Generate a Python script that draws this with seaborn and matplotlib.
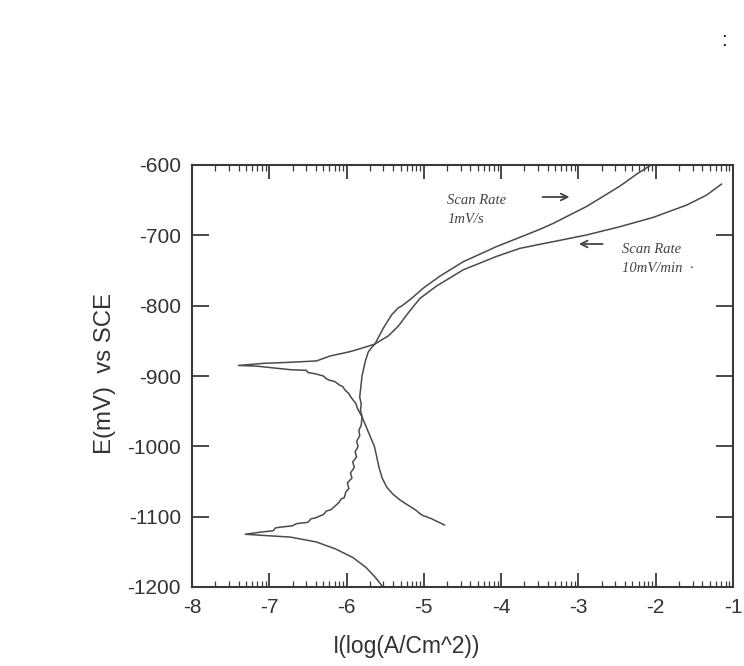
import numpy as np
import pandas as pd
import matplotlib
matplotlib.use("Agg")
import matplotlib.pyplot as plt
import seaborn as sns
from matplotlib.ticker import FixedLocator

# ---- data (x = log current, y = potential mV vs SCE) ----
# Scan rate 10 mV/min (Ecorr about -885 mV)
slow_x = [-4.73, -4.90, -5.02, -5.07, -5.10, -5.20, -5.30, -5.40, -5.48, -5.54, -5.58, -5.64,
          -5.69, -5.77, -5.80,
          -5.82, -5.86, -5.88, -5.91, -5.95, -5.97, -6.02, -6.05, -6.09, -6.15, -6.22, -6.26,
          -6.30, -6.40, -6.45, -6.50, -6.52, -6.73, -6.99, -7.16, -7.40,
          -7.07, -6.73, -6.39, -6.215, -5.956, -5.78, -5.633, -5.46, -5.33, -5.20, -5.05,
          -4.835, -4.49, -4.06, -3.757, -3.50, -3.326, -2.895, -2.463, -2.03, -1.60, -1.34, -1.147]
slow_y = [-1112, -1103, -1098, -1094, -1091, -1084, -1077, -1068, -1058, -1045, -1030, -1000,
          -987, -966, -958,
          -954, -946, -939, -935, -929, -925, -920, -915, -913, -908, -906, -904,
          -900, -897, -896, -895, -892, -891, -888, -886, -885,
          -882, -880.5, -878.6, -871.6, -865.4, -859.7, -854.5, -843, -829, -810, -789.6,
          -772, -749, -730, -718.5, -712.8, -709, -699.5, -687.7, -674.4, -657, -642.7, -627]

# Scan rate 1 mV/s (Ecorr about -1125 mV)
fast_x = [-5.53, -5.63, -5.75, -5.92, -6.14, -6.39, -6.73, -7.03, -7.31,
          -7.11, -6.95, -6.92, -6.86, -6.70, -6.65, -6.50, -6.46, -6.41, -6.30, -6.26,
          -6.20, -6.14, -6.10, -6.07, -6.03, -6.01, -5.97, -5.99, -5.93, -5.95, -5.90,
          -5.92, -5.87, -5.89, -5.85, -5.87, -5.83, -5.84, -5.81, -5.80, -5.82, -5.81,
          -5.83, -5.82, -5.81, -5.80, -5.78, -5.76, -5.72, -5.68, -5.633, -5.525, -5.417,
          -5.33, -5.287, -5.158, -5.007, -4.792, -4.49, -4.06, -3.757, -3.50, -3.326,
          -2.895, -2.463, -2.247, -2.06]
fast_y = [-1200, -1186, -1172, -1158, -1146, -1136, -1129, -1127, -1125,
          -1122, -1120, -1116, -1115, -1113, -1110, -1108, -1103, -1102, -1097, -1092,
          -1090, -1084, -1080, -1075, -1073, -1065, -1060, -1052, -1045, -1038, -1030,
          -1022, -1015, -1008, -1000, -993, -985, -977, -970, -958, -948, -940,
          -930, -920, -910, -900, -890, -880, -866, -860, -854.5, -832, -813,
          -803, -800.5, -789.6, -775, -758, -737.5, -716, -702.8, -691.5, -683,
          -659, -630, -613, -600]

x_ticks = [-8, -7, -6, -5, -4, -3, -2, -1]
y_ticks = [-1200, -1100, -1000, -900, -800, -700, -600]
x_label = "I(log(A/Cm^2))"
y_label = "E(mV)  vs SCE"

slow = pd.DataFrame({"x": slow_x, "y": slow_y})
fast = pd.DataFrame({"x": fast_x, "y": fast_y})

sns.set_theme(style="ticks")
plt.rcParams["font.family"] = ["Liberation Sans", "DejaVu Sans"]

fig = plt.figure(figsize=(7.44, 6.66), dpi=100)
fig.patch.set_facecolor("white")

ax = fig.add_axes([192/744, 1 - 587/666, 541/744, 422/666])
ax.set_facecolor("white")

line_col = "#4a4a4a"
sns.lineplot(data=slow, x="x", y="y", sort=False, estimator=None, ax=ax,
             color=line_col, lw=1.1)
sns.lineplot(data=fast, x="x", y="y", sort=False, estimator=None, ax=ax,
             color=line_col, lw=1.1)

ax.set_xlim(-8, -1)
ax.set_ylim(-1200, -600)
ax.set_xticks(x_ticks)
ax.set_yticks(y_ticks)
ax.set_xticklabels([str(v) for v in x_ticks])
ax.set_yticklabels([str(v) for v in y_ticks])
minor = [d + np.log10(k) for d in range(-8, -1) for k in range(2, 10)]
ax.xaxis.set_minor_locator(FixedLocator(minor))

spine_col = "#3a3a3a"
for s in ax.spines.values():
    s.set_visible(True)
    s.set_linewidth(1.5)
    s.set_color(spine_col)

ax.tick_params(axis="x", which="major", direction="in", length=10, width=1.3,
               top=True, bottom=True, colors=spine_col, labelcolor="#333333",
               labelsize=15, pad=8)
ax.tick_params(axis="x", which="minor", direction="in", length=4.5, width=0.9,
               top=True, bottom=True, colors=spine_col)
ax.tick_params(axis="y", which="major", direction="in", length=12, width=1.3,
               left=True, right=True, colors=spine_col, labelcolor="#333333",
               labelsize=15, pad=8)

ax.set_xlabel("")
ax.set_ylabel("")
fig.text(407/744, 1 - 646/666, x_label, ha="center", va="center",
         fontsize=16.5, color="#333333")
fig.text(105/744, 1 - 373/666, y_label, ha="center", va="center",
         rotation=90, fontsize=17.3, color="#333333")

ann_col = "#444444"
serif = ["Liberation Serif", "DejaVu Serif"]
ax.text(-4.70, -650, "Scan Rate", family=serif, style="italic", fontsize=10.5,
        color=ann_col, ha="left", va="center")
ax.text(-4.70, -677, "1mV/s", family=serif, style="italic", fontsize=10.5,
        color=ann_col, ha="left", va="center")
ax.annotate("", xy=(-3.08, -645.5), xytext=(-3.50, -645.5),
            arrowprops=dict(arrowstyle="->", lw=1.3, color=ann_col))
ax.text(-2.44, -719.5, "Scan Rate", family=serif, style="italic", fontsize=10.5,
        color=ann_col, ha="left", va="center")
ax.text(-2.44, -746.5, "10mV/min  \u00b7", family=serif, style="italic", fontsize=10.5,
        color=ann_col, ha="left", va="center")
ax.annotate("", xy=(-3.03, -712.3), xytext=(-2.65, -712.3),
            arrowprops=dict(arrowstyle="->", lw=1.3, color=ann_col))

fig.text(724/744, 1 - 40/666, ":", fontsize=15, color="#222222",
         ha="center", va="center")

fig.savefig("out.png", dpi=100, facecolor="white")
